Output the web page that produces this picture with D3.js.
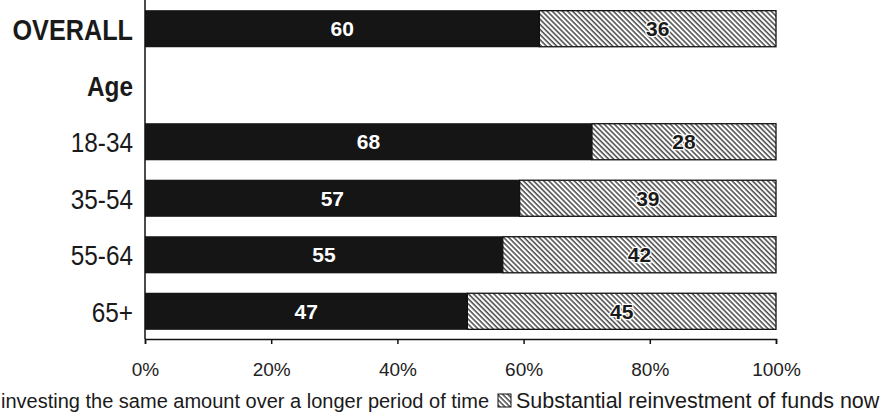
<!DOCTYPE html>
<html>
<head>
<meta charset="utf-8">
<script src="https://cdn.jsdelivr.net/npm/d3@7"></script>
<style>
  body { margin: 0; background: #fff; }
  svg { display: block; font-family: "Liberation Sans", Arial, sans-serif; }
</style>
</head>
<body>
<div id="chart"></div>
<script>
// categories and values
const categories = ["OVERALL", "Age", "18-34", "35-54", "55-64", "65+"];
const boldCats = ["OVERALL", "Age"];
const gradual = [60, null, 68, 57, 55, 47];
const substantial = [36, null, 28, 39, 42, 45];
const xTicks = [0, 0.2, 0.4, 0.6, 0.8, 1];
const legendLabels = ["investing the same amount over a longer period of time", "Substantial reinvestment of funds now"];

const width = 887, height = 417;

const svg = d3.select("#chart")
    .append("svg")
    .attr("width", width)
    .attr("height", height);

// hatch pattern for the second series ("\" lines)
const defs = svg.append("defs");
const pat = defs.append("pattern")
    .attr("id", "hatch")
    .attr("patternUnits", "userSpaceOnUse")
    .attr("width", 3.6)
    .attr("height", 10)
    .attr("patternTransform", "rotate(-45)");
pat.append("rect").attr("width", 3.6).attr("height", 10).attr("fill", "#fff");
pat.append("line")
    .attr("x1", 1).attr("x2", 1)
    .attr("y1", 0).attr("y2", 10)
    .attr("stroke", "#2a2a2a")
    .attr("stroke-width", 1.3);

const x = d3.scaleLinear().domain([0, 1]).range([145, 776]);
const y = d3.scaleBand()
    .domain(categories)
    .range([0, 340])
    .paddingInner(0.344)
    .paddingOuter(0.18);

const rows = categories.map((c, i) => ({ cat: c, a: gradual[i], b: substantial[i] }))
    .filter(d => d.a != null);

// dark segments
svg.selectAll(".seg-a")
    .data(rows)
    .enter().append("rect")
    .attr("class", "seg-a")
    .attr("x", x(0))
    .attr("y", d => y(d.cat))
    .attr("width", d => x(d.a / (d.a + d.b)) - x(0))
    .attr("height", y.bandwidth())
    .attr("fill", "#151515");

// hatched segments
svg.selectAll(".seg-b")
    .data(rows)
    .enter().append("rect")
    .attr("class", "seg-b")
    .attr("x", d => x(d.a / (d.a + d.b)))
    .attr("y", d => y(d.cat) + 0.5)
    .attr("width", d => x(1) - x(d.a / (d.a + d.b)))
    .attr("height", y.bandwidth() - 1)
    .attr("fill", "url(#hatch)")
    .attr("stroke", "#111")
    .attr("stroke-width", 1.3);

// value labels
svg.selectAll(".lab-a")
    .data(rows)
    .enter().append("text")
    .attr("x", d => (x(0) + x(d.a / (d.a + d.b))) / 2)
    .attr("y", d => y(d.cat) + y.bandwidth() / 2)
    .attr("dy", "0.36em")
    .attr("text-anchor", "middle")
    .attr("fill", "#fff")
    .attr("font-weight", "bold")
    .attr("font-size", 21)
    .text(d => d.a);

svg.selectAll(".lab-b")
    .data(rows)
    .enter().append("text")
    .attr("x", d => (x(d.a / (d.a + d.b)) + x(1)) / 2)
    .attr("y", d => y(d.cat) + y.bandwidth() / 2)
    .attr("dy", "0.36em")
    .attr("text-anchor", "middle")
    .attr("fill", "#1a1a1a")
    .attr("font-weight", "bold")
    .attr("font-size", 21)
    .attr("stroke", "#fff")
    .attr("stroke-width", 2.5)
    .attr("paint-order", "stroke")
    .text(d => d.b);

// y axis line and category labels (slightly condensed face)
svg.append("line")
    .attr("x1", x(0)).attr("x2", x(0))
    .attr("y1", 0).attr("y2", 339)
    .attr("stroke", "#111").attr("stroke-width", 1.5);

svg.selectAll(".cat")
    .data(categories)
    .enter().append("text")
    .attr("transform", d => `translate(133, ${y(d) + y.bandwidth() / 2}) scale(0.87, 1)`)
    .attr("dy", "0.38em")
    .attr("text-anchor", "end")
    .attr("fill", "#1a1a1a")
    .attr("font-size", d => d === "OVERALL" ? 29 : 28)
    .attr("font-weight", d => boldCats.includes(d) ? "bold" : "normal")
    .text(d => d);

// x axis
const xAxis = svg.append("g")
    .attr("transform", "translate(0,339)")
    .call(d3.axisBottom(x).tickValues(xTicks).tickFormat(d3.format(".0%")).tickSize(5).tickPadding(19));
xAxis.select(".domain").attr("stroke", "#111").attr("stroke-width", 1.5);
xAxis.selectAll(".tick line").attr("stroke", "#111").attr("stroke-width", 1.5);
xAxis.selectAll(".tick text")
    .attr("fill", "#222")
    .attr("font-size", 19)
    .attr("font-family", "\"Liberation Sans\", Arial, sans-serif");

// legend
svg.append("text")
    .attr("x", 1)
    .attr("y", 408)
    .attr("fill", "#1a1a1a")
    .attr("font-size", 20)
    .text(legendLabels[0]);

svg.append("rect")
    .attr("x", 498)
    .attr("y", 394)
    .attr("width", 13)
    .attr("height", 13)
    .attr("fill", "url(#hatch)")
    .attr("stroke", "#111")
    .attr("stroke-width", 1);

svg.append("text")
    .attr("x", 516)
    .attr("y", 408)
    .attr("fill", "#1a1a1a")
    .attr("font-size", 21.5)
    .text(legendLabels[1]);
</script>
</body>
</html>
